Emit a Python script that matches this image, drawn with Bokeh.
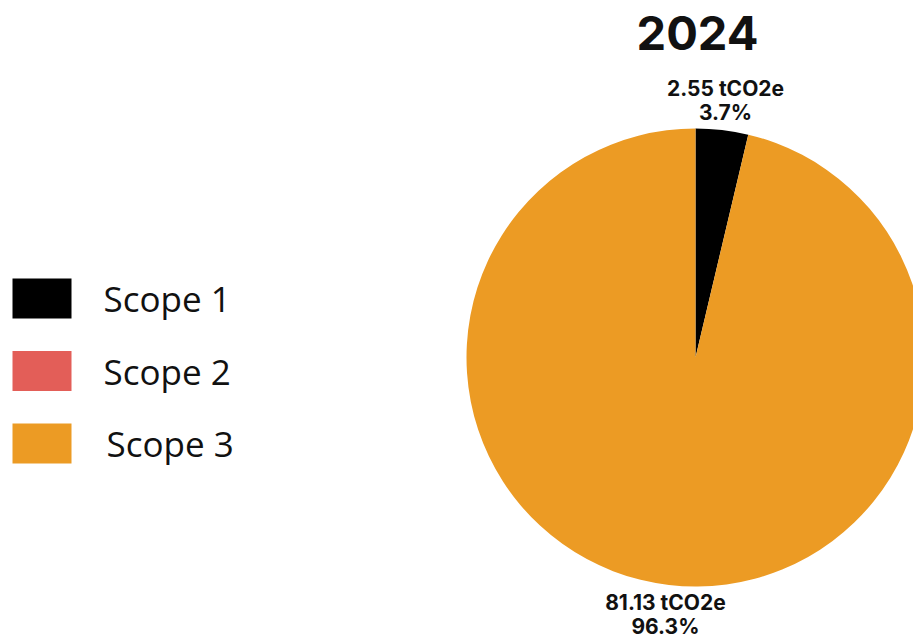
import math
from bokeh.plotting import figure
from bokeh.models import Range1d, ColumnDataSource
from bokeh.core.properties import value
from bokeh.embed import file_html
from bokeh.resources import INLINE

# ---- data ----
year = "2024"
scopes = ["Scope 1", "Scope 2", "Scope 3"]
emissions_t = [2.55, 0.0, 81.13]
shares_pct = [3.7, 0.0, 96.3]
colors = ["#000000", "#E35E58", "#EC9B24"]

# ---- layout (pixels) ----
W, H = 913, 639
CX, CY = 695, H - 357
R = 229
R_LABEL = 259

p = figure(width=W, height=H, x_range=Range1d(0, W), y_range=Range1d(0, H),
           output_backend="svg", toolbar_location=None, min_border=0)
p.axis.visible = False
p.grid.visible = False
p.outline_line_color = None
p.background_fill_color = "white"
p.border_fill_color = "white"

# wedges, clockwise from 12 o'clock (zero shares skipped)
total = sum(shares_pct)
ws, we, wc = [], [], []
mids = []
acc = 0.0
for s, c in zip(shares_pct, colors):
    a0 = math.pi / 2 - 2 * math.pi * acc / total
    acc += s
    a1 = math.pi / 2 - 2 * math.pi * acc / total
    mids.append((a0 + a1) / 2)
    if s > 0:
        ws.append(a0)
        we.append(a1)
        wc.append(c)

src = ColumnDataSource(dict(start=ws, end=we, color=wc))
p.wedge(x=CX, y=CY, radius=R, start_angle="start", end_angle="end",
        direction="clock", fill_color="color", line_color=None, source=src)

# slice labels
lx, ly, l1, l2 = [], [], [], []
for v, s, m in zip(emissions_t, shares_pct, mids):
    if s <= 0:
        continue
    lx.append(CX + R_LABEL * math.cos(m))
    ly.append(CY + R_LABEL * math.sin(m))
    l1.append(f"{v:.2f} tCO2e")
    l2.append(f"{s:.1f}%")
lsrc = ColumnDataSource(dict(x=lx, y=ly, l1=l1, l2=l2))
for col, off in (("l1", -12), ("l2", 12)):
    p.text(x="x", y="y", text=col, source=lsrc, y_offset=off,
           text_font=value("Inter"), text_font_style="bold",
           text_font_size="21px", text_align="center",
           text_baseline="middle", text_color="#111111")

# title
p.text(x=[697], y=[H - 32], text=[year], text_font=value("Inter"),
       text_font_style="bold", text_font_size="47px", text_align="center",
       text_baseline="middle", text_color="#111111")

# legend
leg_y = [H - 298, H - 370.5, H - 443]
leg_tx = [103, 103, 106]
p.rect(x=[41.5] * 3, y=leg_y, width=59, height=40, fill_color=colors,
       line_color=None)
p.text(x=leg_tx, y=leg_y, text=scopes, text_font=value("Open Sans"),
       text_font_size="35px", text_align="left", text_baseline="middle",
       text_color="#111111")

open("out.html", "w").write(file_html(p, INLINE))
